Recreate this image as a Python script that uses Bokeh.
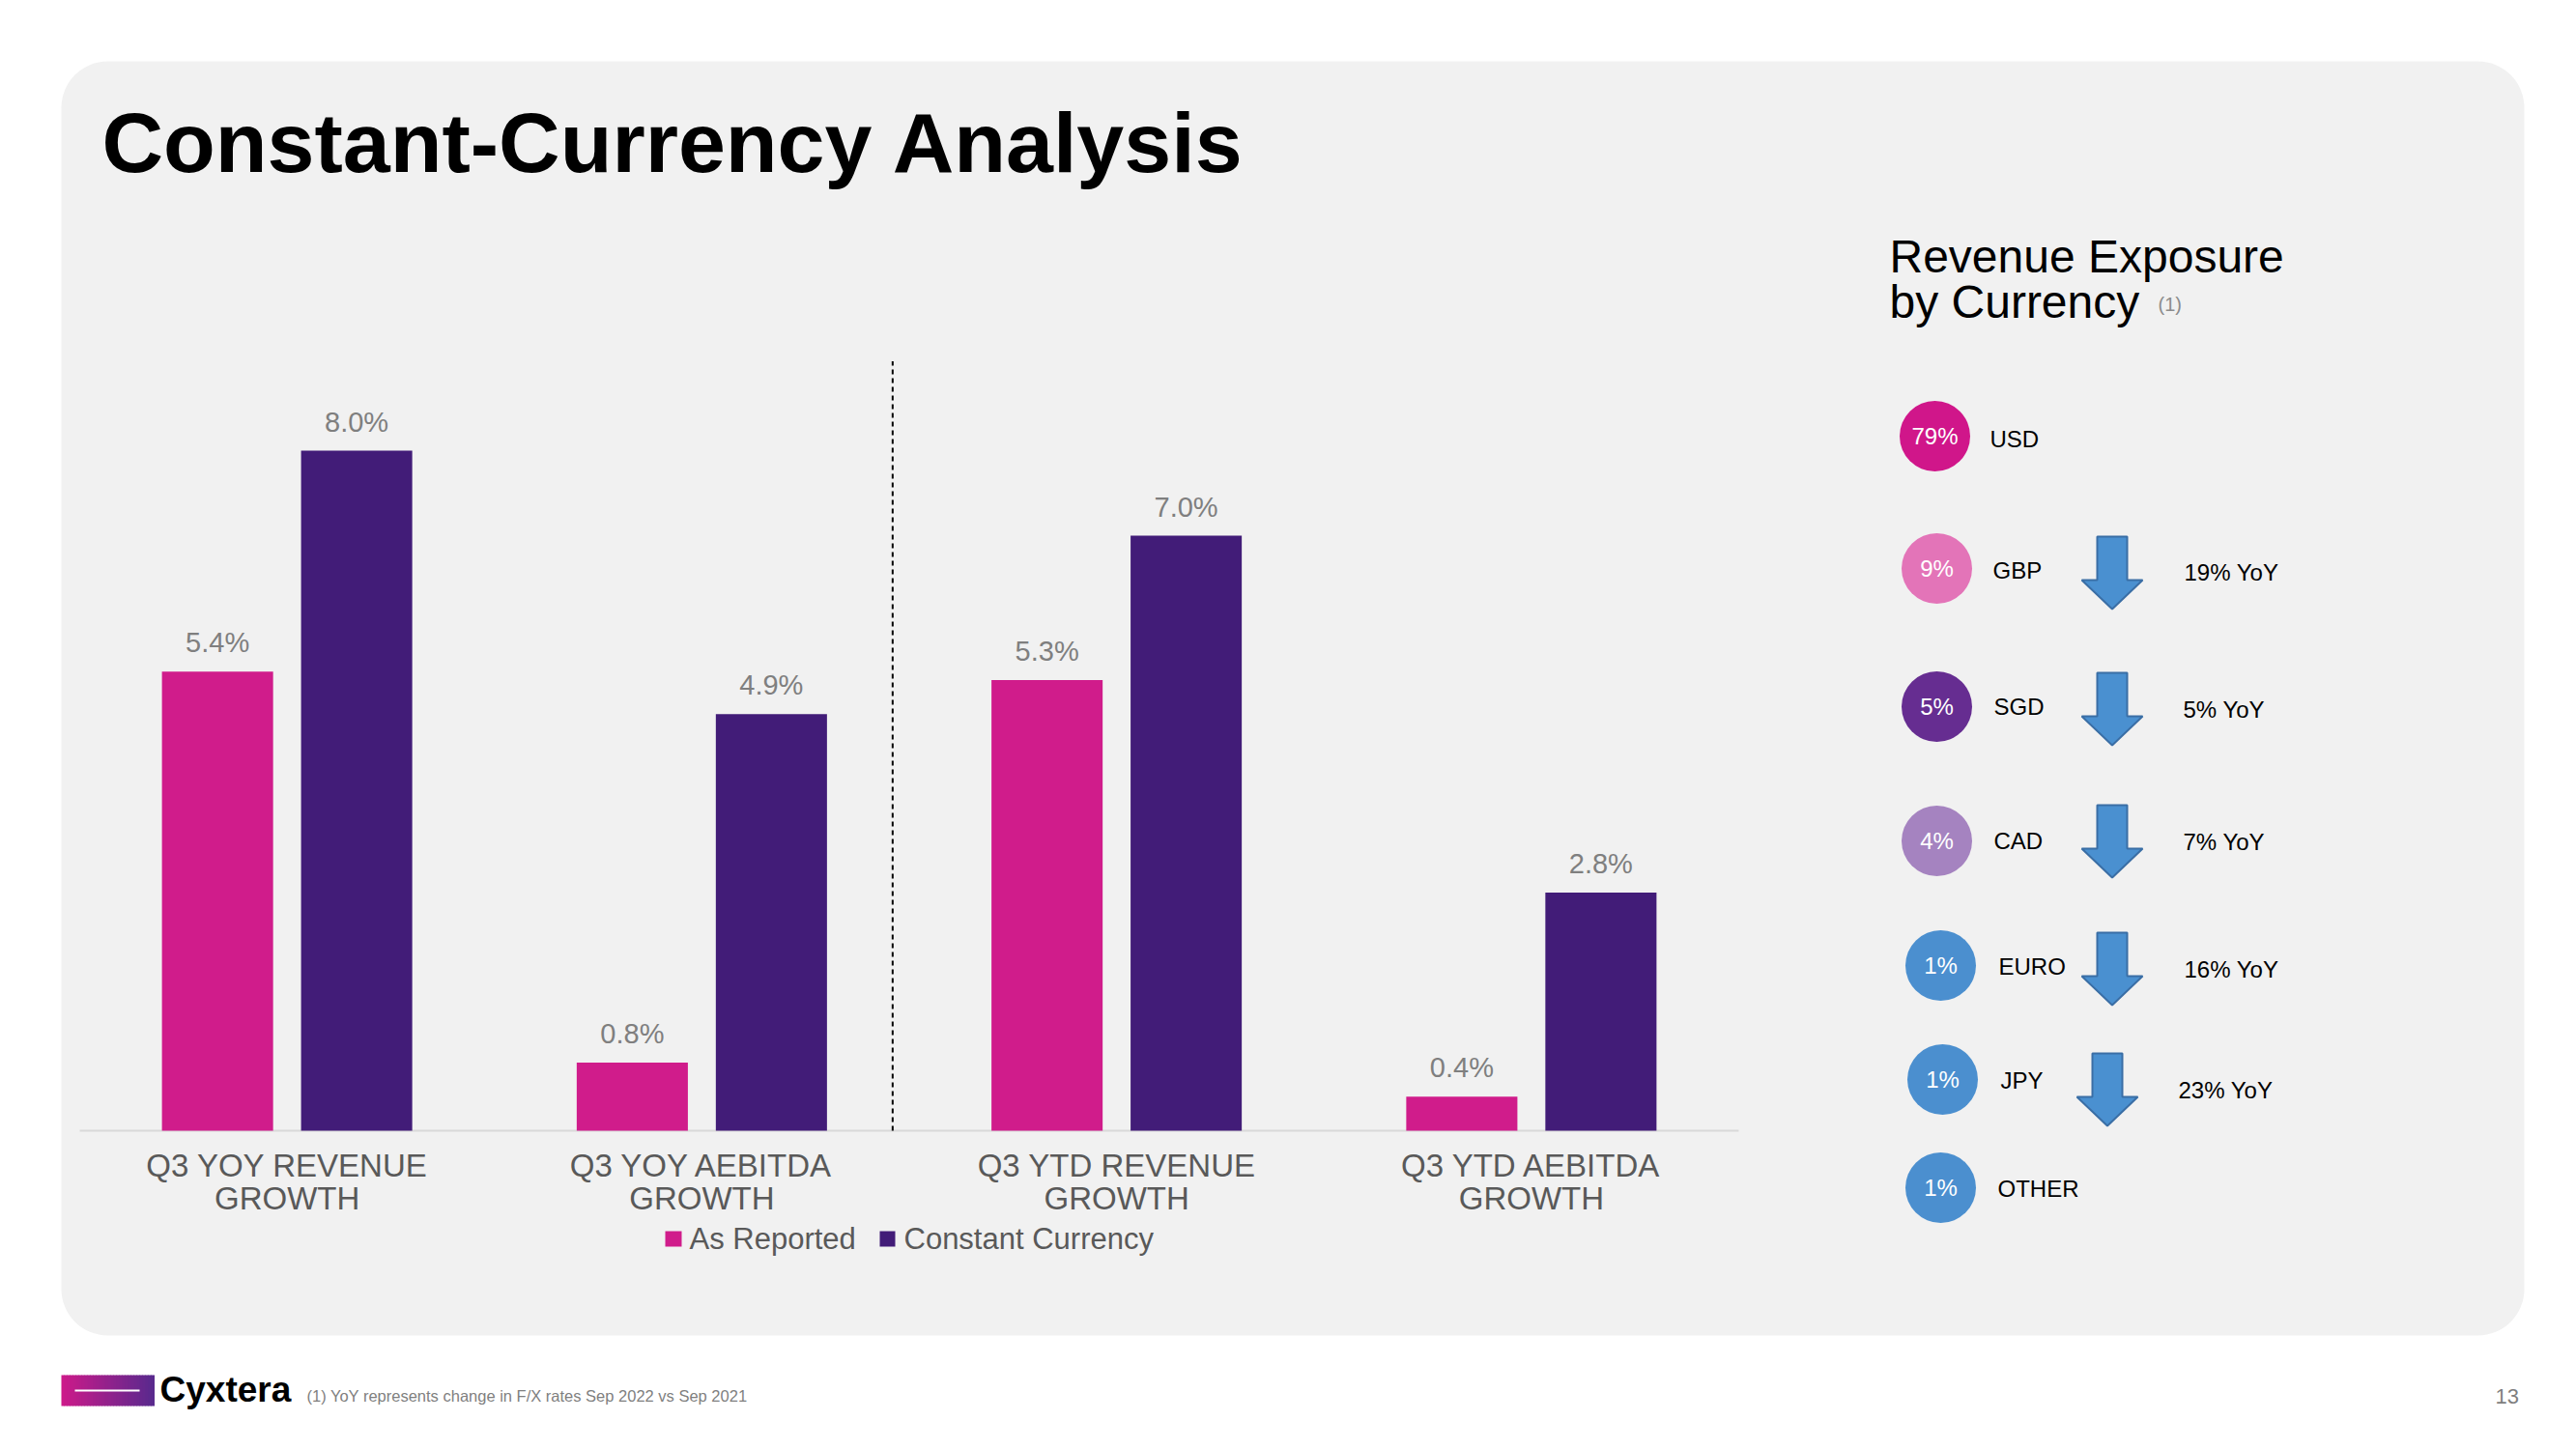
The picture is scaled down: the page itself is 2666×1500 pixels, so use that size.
from bokeh.plotting import figure
from bokeh.models import Range1d
from bokeh.embed import file_html
from bokeh.resources import INLINE
from bokeh.core.properties import value

# ---------------- data ----------------
categories = ["Q3 YOY REVENUE\nGROWTH", "Q3 YOY AEBITDA\nGROWTH",
              "Q3 YTD REVENUE\nGROWTH", "Q3 YTD AEBITDA\nGROWTH"]
series_names = ["As Reported", "Constant Currency"]
as_reported = [5.4, 0.8, 5.3, 0.4]
constant_currency = [8.0, 4.9, 7.0, 2.8]

currencies = ["USD", "GBP", "SGD", "CAD", "EURO", "JPY", "OTHER"]
currency_share = [79, 9, 5, 4, 1, 1, 1]
yoy_change = [None, 19, 5, 7, 16, 23, None]

# ---------------- layout / style ----------------
W, H, M = 2650, 1484, 0
FONT = value("Liberation Sans")
PINK, PURPLE = "#d01c8b", "#421c78"
PANEL = "#f1f1f1"
GRAY_LBL, GRAY_VAL = "#595959", "#7f7f7f"
circle_colors = ["#d0168a", "#e374b8", "#662d91", "#a583c0", "#4b8fcf", "#4b8fcf", "#4b8fcf"]

p = figure(width=W, height=H, x_range=Range1d(M, M + W), y_range=Range1d(M + H, M),
           x_axis_type=None, y_axis_type=None, toolbar_location=None,
           output_backend="svg", min_border=0, outline_line_color=None,
           background_fill_color="white", border_fill_color="white")

# bar-chart coordinate system (page px -> data)
BX0, BX1 = 82, 1799
BASE_Y, PX_PER_PCT = 1170, 88.0
unit = (BX1 - BX0) / len(categories)
p.extra_x_ranges = {"bx": Range1d((M - BX0) / unit, (M + W - BX0) / unit)}
p.extra_y_ranges = {"by": Range1d((BASE_Y - (M + H)) / PX_PER_PCT, (BASE_Y - M) / PX_PER_PCT)}
BR = dict(x_range_name="bx", y_range_name="by")

# panel
p.quad(left=[63], right=[2612], top=[63], bottom=[1382], fill_color=PANEL,
       line_color=None, border_radius=48)

# title
p.text(x=[105], y=[147], text=["Constant-Currency Analysis"], text_font=FONT,
       text_font_style="bold", text_font_size="88px", text_color="black",
       text_baseline="middle")

# ---------------- bars ----------------
n = len(categories)
centers = [i + 0.5 for i in range(n)]
off, bw = 0.1677, 0.268
x_ar = [c - off for c in centers]
x_cc = [c + off for c in centers]

p.segment(x0=[0], y0=[0], x1=[n], y1=[0], line_color="#d9d9d9", line_width=2, **BR)
p.vbar(x=x_ar, top=as_reported, bottom=0, width=bw, fill_color=PINK, line_color=None, **BR)
p.vbar(x=x_cc, top=constant_currency, bottom=0, width=bw, fill_color=PURPLE, line_color=None, **BR)

p.text(x=x_ar, y=as_reported, text=[f"{v:.1f}%" for v in as_reported], y_offset=-30,
       text_align="center", text_baseline="middle", text_font=FONT,
       text_font_size="29px", text_color=GRAY_VAL, **BR)
p.text(x=x_cc, y=constant_currency, text=[f"{v:.1f}%" for v in constant_currency], y_offset=-30,
       text_align="center", text_baseline="middle", text_font=FONT,
       text_font_size="29px", text_color=GRAY_VAL, **BR)

line1 = [c.split("\n")[0] for c in categories]
line2 = [c.split("\n")[1] for c in categories]
p.text(x=centers, y=[0] * n, text=line1, y_offset=36, text_align="center",
       text_baseline="middle", text_font=FONT, text_font_size="33px",
       text_color=GRAY_LBL, **BR)
p.text(x=centers, y=[0] * n, text=line2, y_offset=70, text_align="center",
       text_baseline="middle", text_font=FONT, text_font_size="33px",
       text_color=GRAY_LBL, **BR)

# divider
p.segment(x0=[1.96], y0=[0], x1=[1.96], y1=[9.05], line_color="black", line_width=2,
          line_dash="5 4", **BR)

# legend
p.quad(left=[688, 910], right=[705, 926], top=[1274, 1274], bottom=[1290, 1290],
       fill_color=[PINK, PURPLE], line_color=None)
p.text(x=[713, 935], y=[1282, 1282], text=series_names, text_font=FONT,
       text_font_size="31px", text_color=GRAY_LBL, text_baseline="middle")

# ---------------- right panel ----------------
p.text(x=[1955, 1955], y=[265, 312], text=["Revenue Exposure", "by Currency"],
       text_font=FONT, text_font_size="48px", text_color="black", text_baseline="middle")
p.text(x=[2233], y=[314], text=["(1)"], text_font=FONT, text_font_size="20px",
       text_color="#8c8c8c", text_baseline="middle")

row_y = [451, 588, 731, 870, 999, 1117, 1229]
circ_x = [2002, 2004, 2004, 2004, 2008, 2010, 2008]
name_x = [2059, 2062, 2063, 2063, 2068, 2070, 2067]
name_y = [454, 590, 731, 870, 1000, 1118, 1230]

p.circle(x=circ_x, y=row_y, radius=36.5, fill_color=circle_colors, line_color=None)
p.text(x=circ_x, y=row_y, text=[f"{s}%" for s in currency_share], text_align="center",
       text_baseline="middle", text_font=FONT, text_font_size="24px", text_color="white")
p.text(x=name_x, y=name_y, text=currencies, text_baseline="middle", text_font=FONT,
       text_font_size="24px", text_color="black")

# arrows + YoY
arrow_top = {1: 555, 2: 696, 3: 833, 4: 965, 5: 1090}
arrow_left = {1: 2154, 2: 2154, 3: 2154, 4: 2154, 5: 2149}
yoy_x = {1: 2260, 2: 2259, 3: 2259, 4: 2260, 5: 2254}
yoy_y = {1: 592, 2: 734, 3: 871, 4: 1003, 5: 1128}
xs, ys, yt, ytx, yty = [], [], [], [], []
for i, ch in enumerate(yoy_change):
    if ch is None:
        continue
    L, T = arrow_left[i], arrow_top[i]
    xs.append([L + 16, L + 47, L + 47, L + 63, L + 31.5, L, L + 16])
    ys.append([T, T, T + 45, T + 45, T + 75, T + 45, T + 45])
    yt.append(f"{ch}% YoY")
    ytx.append(yoy_x[i])
    yty.append(yoy_y[i])
p.patches(xs=xs, ys=ys, fill_color="#4a90d0", line_color="#3a6ea5", line_width=2)
p.text(x=ytx, y=yty, text=yt, text_baseline="middle", text_font=FONT,
       text_font_size="24px", text_color="black")

# ---------------- footer ----------------
NS = 32
c0, c1 = (0xcc, 0x1a, 0x8a), (0x5a, 0x2a, 0x8e)
lx0, lx1 = 63, 159
sw = (lx1 - lx0) / NS
grad_cols = ["#%02x%02x%02x" % tuple(int(c0[k] + (c1[k] - c0[k]) * j / (NS - 1)) for k in range(3))
             for j in range(NS)]
p.quad(left=[lx0 + j * sw for j in range(NS)], right=[lx0 + (j + 1) * sw + 0.5 for j in range(NS)],
       top=[1423] * NS, bottom=[1455] * NS, fill_color=grad_cols, line_color=None)
p.segment(x0=[77], y0=[1439], x1=[144], y1=[1439], line_color="white", line_width=2)
p.text(x=[165], y=[1438], text=["Cyxtera"], text_font=FONT, text_font_style="bold",
       text_font_size="37px", text_color="black", text_baseline="middle")
p.text(x=[317], y=[1444], text=["(1) YoY represents change in F/X rates Sep 2022 vs Sep 2021"],
       text_font=FONT, text_font_size="16.5px", text_color="#7f7f7f", text_baseline="middle")
p.text(x=[2582], y=[1445], text=["13"], text_font=FONT, text_font_size="22px",
       text_color="#7f7f7f", text_baseline="middle")

open("out.html", "w").write(file_html(p, INLINE))
